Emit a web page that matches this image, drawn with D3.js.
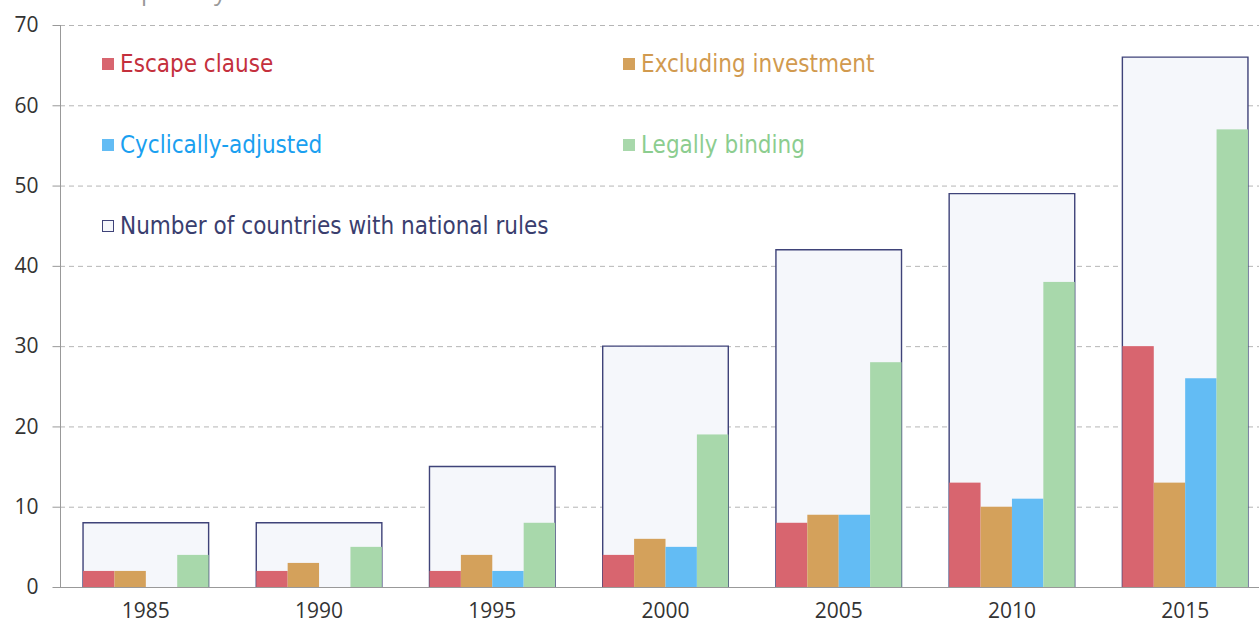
<!DOCTYPE html>
<html><head><meta charset="utf-8">
<script src="https://cdn.jsdelivr.net/npm/d3@7"></script>
<style>html,body{margin:0;padding:0;background:#fff;}svg{display:block;}</style>
</head><body><svg id="c" width="1259" height="628"></svg>
<script>
const years = ["1985","1990","1995","2000","2005","2010","2015"];
const seriesNames = ["Escape clause","Excluding investment","Cyclically-adjusted","Legally binding"];
const escapeClause = [2,2,2,4,8,13,30];
const excludingInvestment = [2,3,4,6,9,10,13];
const cyclicallyAdjusted = [0,0,2,5,9,11,26];
const legallyBinding = [4,5,8,19,28,38,57];
const totalCountries = [8,8,15,30,42,49,66];
const totalName = "Number of countries with national rules";
const yTicks = [0,10,20,30,40,50,60,70];
const title = "Popularity of national fiscal rules";

const barColors = ["#d8656f","#d4a15b","#63bcf4","#a8d8ab"];
const textColors = ["#c4303d","#d19a4f","#1aa0f0","#8ccd8f"];
const seriesVals = [escapeClause, excludingInvestment, cyclicallyAdjusted, legallyBinding];

const svg = d3.select("#c");
const x0 = 60, yBottom = 587, yTop = 25;
const y = d3.scaleLinear().domain([0,70]).range([yBottom, yTop]);
const x = d3.scaleBand().domain(years).range([x0, 1271]).paddingInner(0.275).paddingOuter(0.133);
const xs = d3.scaleBand().domain(d3.range(4)).range([0, x.bandwidth()]);

// title (cut off at top, as in the reference)
svg.append("text").attr("x", 112).attr("y", -0.5).attr("font-family","Open Sans").attr("font-size",24).attr("fill","#999").text(title);

// gridlines
svg.append("g").selectAll("line").data(yTicks.filter(d=>d>0)).join("line")
  .attr("x1", x0).attr("x2", 1259).attr("y1", d=>y(d)+0.5).attr("y2", d=>y(d)+0.5)
  .attr("stroke","#b5b5b5").attr("stroke-width",1).attr("stroke-dasharray","5,4");

// y axis
const yAxis = svg.append("g").attr("transform",`translate(${x0+0.5},0)`)
  .call(d3.axisLeft(y).tickValues(yTicks).tickSize(8).tickPadding(14));
yAxis.select(".domain").attr("stroke","#999").attr("d",`M0,${yTop}V${yBottom}`);
yAxis.selectAll(".tick line").attr("stroke","#999");
yAxis.selectAll("text").attr("font-family","Open Sans").attr("font-size",21).attr("fill","#333");

// boxes
const g = svg.append("g");
g.selectAll("rect.box").data(years).join("rect").attr("class","box")
  .attr("x", d=>x(d)).attr("width", x.bandwidth())
  .attr("y", (d,i)=>y(totalCountries[i])).attr("height",(d,i)=>y(0)-y(totalCountries[i]))
  .attr("fill","#f5f7fb");
g.selectAll("path.box").data(years).join("path").attr("class","box")
  .attr("d",(d,i)=>`M${x(d)},${y(0)}V${y(totalCountries[i])}H${x(d)+x.bandwidth()}V${y(0)}`)
  .attr("fill","none").attr("stroke","#3f4379").attr("stroke-width",1.4);

// bars
seriesVals.forEach((vals,s)=>{
  g.selectAll(`rect.s${s}`).data(years.filter((d,i)=>vals[i]>0)).join("rect").attr("class",`s${s}`)
    .attr("x", d=>x(d)+xs(s)).attr("width", xs.bandwidth())
    .attr("y",d=>y(vals[years.indexOf(d)])).attr("height",d=>y(0)-y(vals[years.indexOf(d)]))
    .attr("fill", barColors[s]);
});

// x axis
const xAxis = svg.append("g").attr("transform",`translate(0,${yBottom+0.5})`)
  .call(d3.axisBottom(x).tickSize(0).tickPadding(16));
xAxis.select(".domain").attr("stroke","#999").attr("d",`M${x0},0H1259`);
xAxis.selectAll("text").attr("font-family","Open Sans").attr("font-size",21).attr("fill","#333");

// legend
const legendItems = [
  {name:seriesNames[0], fill:barColors[0], tc:textColors[0], lx:102, ly:58},
  {name:seriesNames[1], fill:barColors[1], tc:textColors[1], lx:623, ly:58},
  {name:seriesNames[2], fill:barColors[2], tc:textColors[2], lx:102, ly:139},
  {name:seriesNames[3], fill:barColors[3], tc:textColors[3], lx:623, ly:139},
  {name:totalName, fill:"#f5f7fb", tc:"#3a3e6e", lx:102, ly:220, stroke:"#3f4379"}
];
const lg = svg.append("g").selectAll("g").data(legendItems).join("g")
  .attr("transform", d=>`translate(${d.lx},${d.ly})`);
lg.append("rect").attr("width", d=>d.stroke?11:12).attr("height", d=>d.stroke?11:12)
  .attr("x", d=>d.stroke?0.5:0).attr("y", d=>d.stroke?0.5:0)
  .attr("fill", d=>d.fill).attr("stroke", d=>d.stroke||"none").attr("stroke-width",1);
lg.append("text").attr("x",18).attr("y",14).attr("font-family","'DejaVu Sans Condensed', 'DejaVu Sans'")
  .attr("font-stretch","condensed").attr("font-size",24)
  .attr("fill", d=>d.tc).text(d=>d.name);
</script></body></html>
